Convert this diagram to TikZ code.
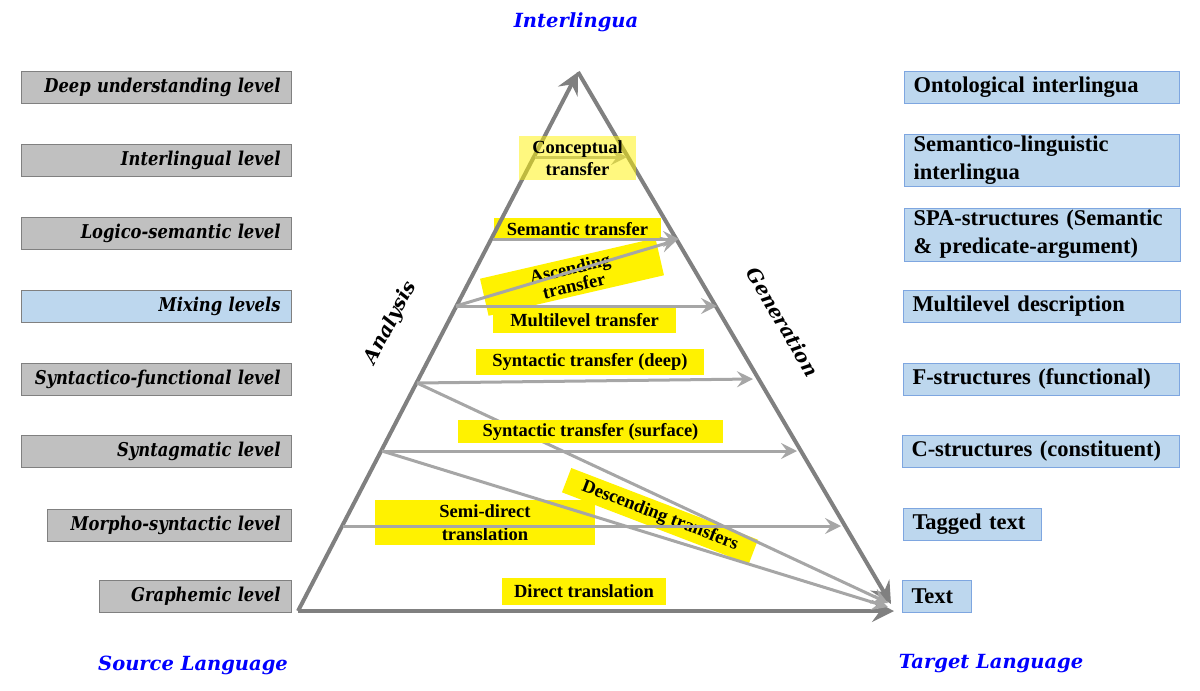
\documentclass[tikz,border=0pt]{standalone}
\usepackage{fontspec}
\setmainfont{Liberation Serif}
\newfontfamily\levelfont[FakeStretch=0.86]{DejaVu Serif}
\newfontfamily\titlefont{DejaVu Serif}
\usepackage{xcolor}
\usepackage{tikz}
\usetikzlibrary{arrows.meta}
\definecolor{levelgray}{HTML}{C0C0C0}
\definecolor{edgegray}{HTML}{808080}
\definecolor{structblue}{HTML}{BDD7EE}
\definecolor{edgeblue}{HTML}{7EA6E0}
\definecolor{pyrgray}{HTML}{808080}
\definecolor{transgray}{HTML}{A6A6A6}
\def\lwidth{248pt}
\def\rwidth{257pt}

\begin{document}
\begin{tikzpicture}[x=1pt, y=-1pt,
  level/.style={draw=edgegray, fill=levelgray, line width=1pt, minimum height=32pt,
    inner xsep=11pt, inner ysep=0pt, align=right, anchor=east,
    font=\levelfont\bfseries\itshape\fontsize{19}{22}\selectfont},
  struct/.style={draw=edgeblue, fill=structblue, line width=1pt, minimum height=32pt,
    inner xsep=9pt, inner ysep=0pt, align=left, anchor=west,
    font=\bfseries\fontsize{22.5}{28}\selectfont},
  tlabel/.style={fill=yellow, inner sep=0pt, align=center,
    font=\bfseries\fontsize{18.5}{22}\selectfont},
  title/.style={text=blue, font=\titlefont\bfseries\itshape\fontsize{19.5}{22}\selectfont},
  side/.style={font=\titlefont\bfseries\itshape\fontsize{19.5}{22}\selectfont},
  pyr/.style={draw=pyrgray, line width=4pt, -{Stealth[length=22pt, width=22pt, inset=8pt]}},
  trans/.style={draw=transgray, line width=3pt, -{Stealth[length=16pt, width=16pt, inset=6pt]}}]
\useasboundingbox (0,0) rectangle (1200,691);
%\draw[step=50pt, line width=0.2pt, black!30!white] (0,0) grid (1200,691);
% titles
\node[title] (interlingua) at (576,22) {Interlingua};
\node[title] (source) at (193,665) {Source Language};
\node[title] (target) at (991,664) {Target Language};
\node[side, rotate=62.5] (analysis) at (391,323) {Analysis};
\node[side, rotate=-59.7] (generation) at (783,322) {Generation};
% source levels
\node[level, text width=\lwidth] (deep) at (292,87) {Deep understanding level};
\node[level, text width=\lwidth] (interl) at (292,160) {Interlingual level};
\node[level, text width=\lwidth] (logico) at (292,233) {Logico-semantic level};
\node[level, text width=\lwidth, fill=structblue] (mixing) at (292,306) {Mixing levels};
\node[level, text width=\lwidth] (syntfun) at (292,379) {\mbox{Syntactico-functional level}};
\node[level, text width=\lwidth] (syntag) at (292,451) {Syntagmatic level};
\node[level, text width=222pt] (morpho) at (292,525) {Morpho-syntactic level};
\node[level, text width=170pt] (graph) at (292,596) {Graphemic level};
% target structures
\node[struct, text width=\rwidth] (onto) at (904,87) {Ontological interlingua};
\node[struct, text width=\rwidth, minimum height=52pt] (semling) at (904,160) {Semantico-linguistic\\interlingua};
\node[struct, text width=258pt, minimum height=53pt] (spa) at (904,234.5) {SPA-structures (Semantic\\\& predicate-argument)};
\node[struct, text width=259pt] (multi) at (903,306) {Multilevel description};
\node[struct, text width=258pt] (fstr) at (903,379) {F-structures (functional)};
\node[struct, text width=259pt] (cstr) at (902,451.5) {C-structures (constituent)};
\node[struct, text width=120pt] (tagged) at (903,524) {Tagged text};
\node[struct, text width=51pt] (text) at (902,596) {Text};
% transfer labels
\node[tlabel, minimum width=167pt, minimum height=22pt] (semantic) at (577.5,229) {Semantic transfer};
\node[tlabel, minimum width=180pt, minimum height=38pt, rotate=13,
  font=\bfseries\fontsize{18.5}{18}\selectfont] (ascending) at (572,277) {Ascending\\transfer};
\node[tlabel, minimum width=183pt, minimum height=25pt] (multilevel) at (584.5,320.5) {Multilevel transfer};
\node[tlabel, minimum width=228pt, minimum height=26pt] (deeplab) at (590,362) {Syntactic transfer (deep)};
\node[tlabel, minimum width=220pt, minimum height=45pt, font=\bfseries\fontsize{18.5}{23}\selectfont] (semidirect) at (485,522.5) {Semi-direct\\translation};
\node[tlabel, minimum width=200pt, minimum height=26pt, rotate=-21] (descending) at (660,516) {Descending transfers};
\node[tlabel, minimum width=164pt, minimum height=27pt] (direct) at (584,591.5) {Direct translation};
% pyramid
\coordinate (apex) at (578,72);
\coordinate (base l) at (298,611);
\coordinate (base r) at (894,611);
\coordinate (side r) at (891,604);
\draw[pyr] (base l) -- (apex);
\draw[pyr] (apex) -- (side r);
\draw[pyr] (base l) -- (base r);
% transfers
\coordinate (c0) at (535,157);  \coordinate (c1) at (627,157);
\coordinate (s0) at (493,239);  \coordinate (s1) at (679,239);
\coordinate (a0) at (456,306);  \coordinate (a1) at (677,240);
\coordinate (m0) at (456,306);  \coordinate (m1) at (717,306);
\coordinate (d0) at (417,383);  \coordinate (d1) at (753,379);
\coordinate (f0) at (382,451);  \coordinate (f1) at (797,451);
\coordinate (h0) at (343,526);  \coordinate (h1) at (841,526);
\coordinate (e1) at (888,603);  \coordinate (e2) at (888,607);
\draw[trans] (c0) -- (c1);
\draw[trans] (s0) -- (s1);
\draw[trans] (a0) -- (a1);
\draw[trans] (m0) -- (m1);
\draw[trans] (d0) -- (d1);
\draw[trans] (f0) -- (f1);
\draw[trans] (h0) -- (h1);
\draw[trans] (d0) -- (e1);
\draw[trans] (f0) -- (e2);
% labels over the lines
\node[tlabel, minimum width=265pt, minimum height=23pt] (surface) at (590.5,431.5) {Syntactic transfer (surface)};
\node[tlabel, fill opacity=0.5, text opacity=1, minimum width=117pt, minimum height=44pt] (conceptual) at (577.5,158) {Conceptual\\transfer};
\end{tikzpicture}
\end{document}
